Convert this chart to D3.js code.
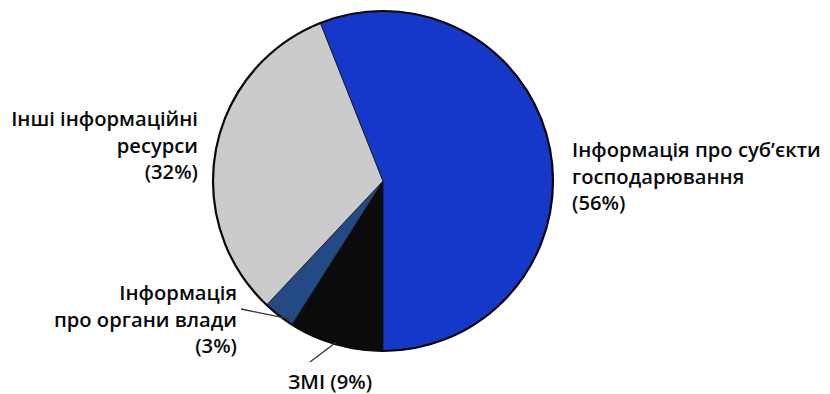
<!DOCTYPE html>
<html>
<head>
<meta charset="utf-8">
<script src="https://cdn.jsdelivr.net/npm/d3@7/dist/d3.min.js"></script>
<style>
  html, body { margin: 0; padding: 0; background: #ffffff; }
  svg { display: block; }
  text { font-family: "Open Sans", "Noto Sans", sans-serif; font-weight: 650; fill: #0a0a0a; }
</style>
</head>
<body>
<svg id="chart" width="830" height="394"></svg>
<script>
// Shares of information resources, clockwise from the bottom of the pie
const categories = ["ЗМІ", "Інформація про органи влади", "Інші інформаційні ресурси", "Інформація про суб’єкти господарювання"];
const values = [9, 3, 32, 56];
const sliceColors = ["#0b0b0b", "#244a86", "#cbcbcb", "#1538c9"];

// Label lines for each slice (same order as categories)
const labelLines = [
  ["ЗМІ (9%)"],
  ["Інформація", "про органи влади", "(3%)"],
  ["Інші інформаційні", "ресурси", "(32%)"],
  ["Інформація про суб’єкти", "господарювання", "(56%)"]
];

const svg = d3.select("#chart");
const cx = 383, cy = 181, r = 170;

const pie = d3.pie().sort(null).value(d => d).startAngle(Math.PI).endAngle(3 * Math.PI);
const arcs = pie(values);
const arc = d3.arc().innerRadius(0).outerRadius(r);

const g = svg.append("g").attr("transform", `translate(${cx},${cy})`);

g.selectAll("path.slice")
  .data(arcs)
  .join("path")
  .attr("class", "slice")
  .attr("d", arc)
  .attr("fill", (d, i) => sliceColors[i])
  .attr("stroke", "#111")
  .attr("stroke-width", 0.8);

// outer rim
g.append("circle").attr("r", r).attr("fill", "none").attr("stroke", "#0a0a0a").attr("stroke-width", 2.2);

// Leader lines for the two small slices
const leader = (d, from) => {
  const a = (d.startAngle + d.endAngle) / 2;
  const px = Math.sin(a) * (r - 2), py = -Math.cos(a) * (r - 2);
  return [from, [px, py]];
};
const lineGen = d3.line();
g.append("path")
  .attr("d", lineGen(leader(arcs[0], [310 - cx, 362 - cy])))
  .attr("stroke", "#333").attr("stroke-width", 1.3).attr("fill", "none");
g.append("path")
  .attr("d", lineGen([[241 - cx, 309 - cy], [Math.sin(3.74) * (r - 3), -Math.cos(3.74) * (r - 3)]]))
  .attr("stroke", "#333").attr("stroke-width", 1.3).attr("fill", "none");

const fontSize = 20.2, lineH = 26.5;
const labelPos = [
  { x: 330, y: 389, anchor: "middle" },
  { x: 237, y: 300, anchor: "end" },
  { x: 198, y: 126, anchor: "end" },
  { x: 572, y: 157, anchor: "start" }
];

labelLines.forEach((lines, i) => {
  const p = labelPos[i];
  const t = svg.append("text")
    .attr("x", p.x).attr("y", p.y)
    .attr("text-anchor", p.anchor)
    .attr("font-size", fontSize);
  lines.forEach((ln, k) => {
    t.append("tspan").attr("x", p.x).attr("dy", k === 0 ? 0 : lineH).text(ln);
  });
});
</script>
</body>
</html>
